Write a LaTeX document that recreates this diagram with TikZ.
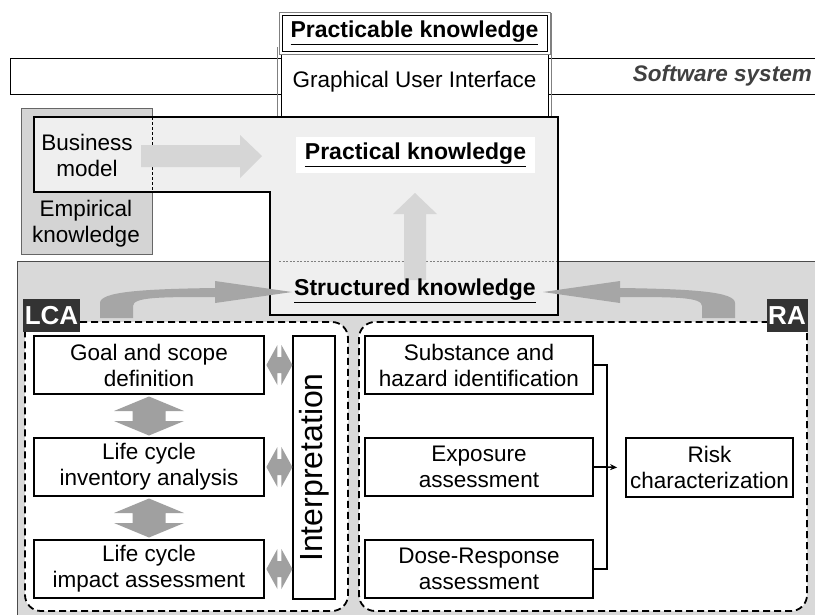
\documentclass[tikz,border=0pt]{standalone}
\usepackage{fontspec}
\setmainfont{Liberation Sans}
\usetikzlibrary{arrows.meta,calc}
\definecolor{fieldgrey}{RGB}{217,217,217}
\definecolor{empgrey}{RGB}{212,212,212}
\definecolor{pracgrey}{RGB}{239,239,239}
\definecolor{lightarrow}{RGB}{214,214,214}
\definecolor{curvegrey}{RGB}{166,166,166}
\definecolor{lcaarrow}{RGB}{160,160,160}
\definecolor{labelgrey}{RGB}{51,51,51}
\definecolor{swtext}{RGB}{64,64,64}
\begin{document}
\begin{tikzpicture}[x=1pt,y=-1pt,
  every node/.style={font=\fontsize{22.5}{26}\selectfont, align=center, inner sep=0pt},
  title/.style={font=\fontsize{23}{27}\selectfont\bfseries},
  box/.style={draw, line width=1.8pt, fill=white, minimum width=230pt, minimum height=58pt},
  rabox/.style={box, minimum width=228pt},
  region/.style={draw, fill=white, line width=1.8pt, dash pattern=on 7pt off 4pt, rounded corners=16pt},
  tag/.style={fill=labelgrey, text=white, minimum height=33pt, font=\fontsize{26}{30}\selectfont\bfseries},
  pics/vdarr/.style={code={
    \fill[lcaarrow] (0,-19.5) -- (35,-5) -- (16.5,-5) -- (16.5,5) -- (35,5) -- (0,19.5)
      -- (-35,5) -- (-16.5,5) -- (-16.5,-5) -- (-35,-5) -- cycle;}},
  pics/hdarr/.style={code={
    \fill[lcaarrow] (-13,0) -- (-2,-20) -- (-2,-8) -- (2,-8) -- (2,-20) -- (13,0)
      -- (2,20) -- (2,8) -- (-2,8) -- (-2,20) -- cycle;}}
]
\useasboundingbox (0,0) rectangle (815,614);

% lower field holding LCA and RA
\path[draw=black!70, fill=fieldgrey, line width=0.8pt] (17,261) rectangle (840,640);

% empirical knowledge
\node[draw=black!60, fill=empgrey, line width=0.8pt, minimum width=131pt, minimum height=146pt, anchor=north west] (emp) at (21,108) {};
\node (empt) at (86,224) {Empirical\\knowledge};

% software system band
\draw[line width=0.8pt] (840,58) -- (10,58) -- (10,94) -- (840,94);
\node[anchor=east, text=swtext, font=\fontsize{22.5}{26}\selectfont\bfseries\itshape] (sw) at (812,76) {Software system};

% graphical user interface with practicable knowledge on top
\draw[gray, line width=1pt] (277,47) -- (277,117);
\draw[gray, line width=1pt] (551,13) -- (551,117);
\node[draw, fill=white, line width=0.8pt, minimum width=267pt, minimum height=103pt, anchor=north west] (gui) at (281,14) {};
\node (guit) at (414.5,82) {Graphical User Interface};
\node[draw=gray, fill=white, line width=1pt, minimum width=271pt, minimum height=42pt, anchor=north west] (pcbframe) at (279,12) {};
\node[draw, line width=0.8pt, minimum width=265pt, minimum height=36pt, title] (pcb) at (414.5,33) {\underline{Practicable knowledge}};

% practical knowledge area
\draw[line width=1.8pt, fill=pracgrey] (34,117) -- (558,117) -- (558,315) -- (270,315) -- (270,192) -- (34,192) -- cycle;
\draw[line width=0.6pt, dash pattern=on 3pt off 2pt] (152,117) -- (152,192);
\node (bm) at (87,155) {Business\\model};
\fill[lightarrow] (141,145) -- (240,145) -- (240,135) -- (262,156) -- (240,178) -- (240,167) -- (141,167) -- cycle;
\node[fill=white, minimum width=239pt, minimum height=36pt, title] (prac) at (415.5,155) {\underline{Practical knowledge}};
\draw[gray, line width=0.6pt, dash pattern=on 2pt off 1.5pt] (279,261) -- (556,261);
\fill[lightarrow] (404,280) -- (404,214) -- (393,214) -- (415,193) -- (437,214) -- (426,214) -- (426,280) -- cycle;
\node[title] (struct) at (415,291) {\underline{Structured knowledge}};

% LCA and RA regions
\draw[region] (25,322) -- (348,322) -- (348,611) -- (25,611) -- (25,322);
\draw[region] (807,322) -- (807,611) -- (359,611) -- (359,322) -- (807,322);
\node[tag, minimum width=57pt] (lca) at (51.5,315.5) {LCA};
\node[tag, minimum width=41pt] (ra) at (787,315.5) {RA};

% curved arrows feeding structured knowledge
\fill[curvegrey] (100,318) -- (100,303) .. controls (100,292) and (140,289) .. (215,288)
  -- (215,281) -- (292,292) -- (215,303) -- (215,297) .. controls (160,297) and (133,297) .. (133,306)
  -- (133,318) -- cycle;
\fill[curvegrey] (735,318) -- (735,303) .. controls (735,292) and (695,289) .. (620,288)
  -- (620,281) -- (543,292) -- (620,303) -- (620,297) .. controls (675,297) and (702,297) .. (702,306)
  -- (702,318) -- cycle;

% LCA phases
\node[box] (goal) at (149,365) {Goal and scope\\definition};
\node[box] (inv) at (149,467) {Life cycle\\inventory analysis};
\node[box] (imp) at (149,569) {Life cycle\\impact assessment};
\node[box, minimum width=263pt, minimum height=42pt, rotate=90, font=\fontsize{32}{36}\selectfont] (interp) at (314,467.5) {Interpretation};
\pic at ($(goal.south)!0.5!(inv.north)$) {vdarr};
\pic at ($(inv.south)!0.5!(imp.north)$) {vdarr};
\pic at ($(goal.east)+(14.5,0)$) {hdarr};
\pic at ($(inv.east)+(14.5,0)$) {hdarr};
\pic at ($(imp.east)+(14.5,0)$) {hdarr};

% RA steps
\node[rabox] (sub) at (479,365) {Substance and\\hazard identification};
\node[rabox] (expo) at (479,467) {Exposure\\assessment};
\node[rabox] (dose) at (479,569) {Dose-Response\\assessment};
\node[box, minimum width=167pt, minimum height=59pt] (risk) at (709.5,467.5) {Risk\\characterization};
\coordinate (join) at (607,467);
\draw[line width=1.6pt] (sub.east) -| (join) |- (dose.east);
\draw[line width=1.6pt, -{Stealth[length=7pt,width=6pt]}] (expo.east) -- (join) -- ([xshift=-8pt]risk.west);
\end{tikzpicture}
\end{document}
